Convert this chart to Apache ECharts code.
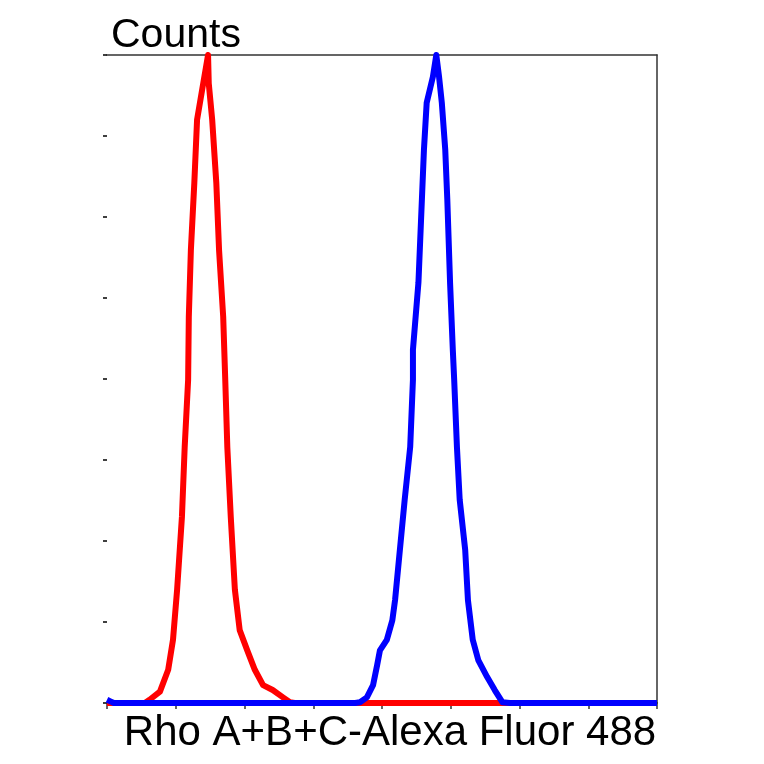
<!DOCTYPE html>
<html>
<head>
<meta charset="utf-8">
<script src="https://cdn.jsdelivr.net/npm/echarts@6/dist/echarts.min.js"></script>
<style>html,body{margin:0;padding:0;background:#fff;}#c{width:764px;height:764px;}</style>
</head>
<body>
<div id="c"></div>
<script>
var yTitle = 'Counts';
var xTitle = 'Rho A+B+C-Alexa Fluor 488';
var xTicks = [0, 100, 200, 300, 400, 500, 600, 700, 800];
var yTicks = [0, 100, 200, 300, 400, 500, 600, 700, 800];

var redX = [0, 55, 62, 77, 89, 96, 102, 109, 113, 118, 119, 122, 127, 131, 140, 147, 148, 153, 159, 163, 169, 172, 175, 180, 186, 193, 204, 215, 227, 241, 256, 266, 273, 800];
var redY = [0, 0, 4, 14, 41, 78, 140, 230, 316, 399, 477, 559, 642, 720, 765, 800, 765, 720, 642, 559, 477, 399, 316, 230, 140, 90, 65, 41, 22, 16, 7, 1, 0, 0];

var blueX = [0, 5, 10, 361, 368, 378, 387, 393, 397, 407, 415, 419, 426, 433, 441, 445, 445, 453, 458, 461, 465, 474, 479, 483, 487, 492, 495, 499, 503, 505, 509, 513, 521, 525, 532, 540, 553, 564, 575, 586, 800];
var blueY = [4, 2, 0, 0, 1, 7, 22, 47, 65, 78, 102, 127, 189, 251, 316, 399, 436, 519, 621, 683, 741, 773, 800, 773, 741, 683, 621, 519, 436, 399, 316, 251, 189, 127, 78, 53, 32, 16, 1, 0, 0];

function pairs(xs, ys) { return xs.map(function (x, i) { return [x, ys[i]]; }); }

var chart = echarts.init(document.getElementById('c'), null, { renderer: 'canvas' });
var font = 'Liberation Sans, Arial, sans-serif';
chart.setOption({
  animation: false,
  backgroundColor: '#ffffff',
  title: {
    text: yTitle, left: 106, top: 10,
    textStyle: { fontFamily: font, fontSize: 41, fontWeight: 'normal', color: '#000' }
  },
  grid: { left: 107, right: 107, top: 55, bottom: 61 },
  xAxis: [{
    type: 'value', min: xTicks[0], max: xTicks[xTicks.length - 1], interval: xTicks[1] - xTicks[0],
    position: 'bottom',
    name: xTitle, nameLocation: 'middle', nameGap: 9,
    nameTextStyle: { fontFamily: font, fontSize: 42, color: '#000', padding: [0, 0, 0, 16], verticalAlign: 'top' },
    axisLine: { show: true, onZero: false, lineStyle: { color: '#000', width: 1.5 } },
    axisTick: { show: true, inside: false, length: 6, lineStyle: { color: '#333', width: 1.5 } },
    axisLabel: { show: false }, splitLine: { show: false }
  }, {
    type: 'value', min: xTicks[0], max: xTicks[xTicks.length - 1], position: 'top',
    axisLine: { show: true, onZero: false, lineStyle: { color: '#333', width: 1.5 } },
    axisTick: { show: false }, axisLabel: { show: false }, splitLine: { show: false }
  }],
  yAxis: [{
    type: 'value', min: yTicks[0], max: yTicks[yTicks.length - 1], interval: yTicks[1] - yTicks[0],
    position: 'left',
    axisLine: { show: false, onZero: false },
    axisTick: { show: true, length: 4, lineStyle: { color: '#000', width: 1.5 } },
    axisLabel: { show: false }, splitLine: { show: false }
  }, {
    type: 'value', min: yTicks[0], max: yTicks[yTicks.length - 1], position: 'right',
    axisLine: { show: true, onZero: false, lineStyle: { color: '#333', width: 1.5 } },
    axisTick: { show: false }, axisLabel: { show: false }, splitLine: { show: false }
  }],
  series: [{
    type: 'line', data: pairs(redX, redY), showSymbol: false, symbol: 'none',
    lineStyle: { color: '#ff0000', width: 6, join: 'round' }, z: 2
  }, {
    type: 'line', data: pairs(blueX, blueY), showSymbol: false, symbol: 'none',
    lineStyle: { color: '#0000ff', width: 6, join: 'round' }, z: 3
  }]
});
</script>
</body>
</html>
